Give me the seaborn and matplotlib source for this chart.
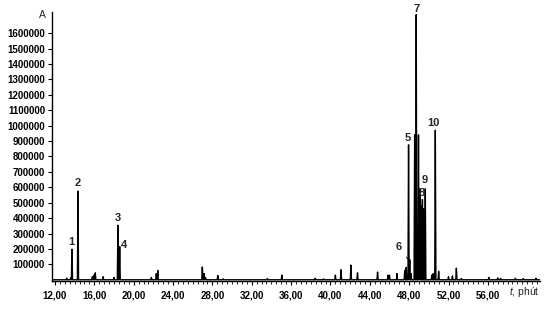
import numpy as np
import pandas as pd
import matplotlib
matplotlib.use("Agg")
import matplotlib.pyplot as plt
import seaborn as sns
from matplotlib.ticker import MultipleLocator, FixedLocator

# ---------------- data ----------------
peak_ids = ["1", "2", "3", "4", "5", "6", "7", "8", "9", "10"]
peak_rt = [13.73, 14.34, 18.40, 18.58, 47.94, 48.06, 48.72, 49.13, 49.64, 50.66]
peak_height = [198000, 575000, 354000, 215000, 875000, 130000, 1720000, 590000, 590000, 970000]

# unlabeled peaks
minor_rt = [13.20, 13.60, 15.80, 15.95, 16.10, 16.90, 18.00, 21.80, 22.30, 22.45,
            26.98, 27.15, 27.30, 28.55, 29.10, 33.60, 35.06, 38.45, 39.30, 40.50,
            41.07, 42.08, 42.75, 44.79, 45.85, 46.00, 46.76, 47.55, 47.70, 48.20,
            48.56, 48.95, 49.25, 49.35, 49.45, 49.55, 50.30, 50.45, 51.00, 52.00,
            52.40, 52.80, 53.30, 56.10, 57.00, 57.30, 58.80, 59.60, 60.90]
minor_height = [10000, 12000, 20000, 30000, 45000, 20000, 15000, 15000, 40000, 60000,
                83000, 40000, 15000, 28000, 6000, 8000, 30000, 10000, 6000, 30000,
                65000, 95000, 45000, 50000, 30000, 30000, 40000, 60000, 80000, 40000,
                940000, 940000, 480000, 520000, 460000, 400000, 30000, 40000, 55000, 20000,
                25000, 75000, 8000, 15000, 12000, 8000, 10000, 8000, 10000]

x_ticks = [12, 16, 20, 24, 28, 32, 36, 40, 44, 48, 52, 56]
x_tick_labels = ["12,00", "16,00", "20,00", "24,00", "28,00", "32,00",
                 "36,00", "40,00", "44,00", "48,00", "52,00", "56,00"]
y_ticks = [100000, 200000, 300000, 400000, 500000, 600000, 700000, 800000,
           900000, 1000000, 1100000, 1200000, 1300000, 1400000, 1500000, 1600000]
y_tick_labels = [str(v) for v in y_ticks]

x_range = (11.7, 61.3)
y_range = (-8000, 1737000)

# ---------------- build trace from peak table ----------------
peaks = pd.DataFrame({"rt": peak_rt + minor_rt, "h": peak_height + minor_height})
peaks = peaks.sort_values("rt").reset_index(drop=True)
half_w = 0.06
ts, hs = [x_range[0]], [0.0]
for t, h in zip(peaks["rt"], peaks["h"]):
    ts += [t - half_w, t, t + half_w]
    hs += [0.0, h, 0.0]
ts.append(x_range[1]); hs.append(0.0)
trace = pd.DataFrame({"t": ts, "A": hs})

# ---------------- figure ----------------
sns.set_theme(style="ticks")
plt.rcParams["font.family"] = ["Liberation Sans", "DejaVu Sans"]
plt.rcParams["mathtext.fontset"] = "custom"
plt.rcParams["mathtext.it"] = "Liberation Sans:italic"
plt.rcParams["mathtext.rm"] = "Liberation Sans"

W, H = 552, 310
fig = plt.figure(figsize=(W / 100, H / 100), dpi=100)
fig.patch.set_facecolor("white")
ax = fig.add_axes([52 / W, 29 / H, (540 - 52) / W, (281 - 12) / H])
ax.set_facecolor("white")

sns.lineplot(data=trace, x="t", y="A", ax=ax, color="black", linewidth=1.0,
             sort=False, estimator=None)

ax.set_xlim(*x_range)
ax.set_ylim(*y_range)
ax.set_xlabel("")
ax.set_ylabel("")
sns.despine(ax=ax)
for s in ("left", "bottom"):
    ax.spines[s].set_color("black")
    ax.spines[s].set_linewidth(1.0)

ax.xaxis.set_major_locator(FixedLocator(x_ticks))
ax.set_xticklabels(x_tick_labels)
ax.xaxis.set_minor_locator(MultipleLocator(0.5))
ax.yaxis.set_major_locator(FixedLocator(y_ticks))
ax.set_yticklabels(y_tick_labels)
ax.tick_params(axis="both", which="major", labelsize=7, length=3, width=0.8,
               color="black", labelcolor="black", pad=2)
ax.tick_params(axis="x", which="major", pad=4)
ax.tick_params(axis="x", which="minor", length=2, width=0.6, color="black")
for lab in ax.get_xticklabels() + ax.get_yticklabels():
    lab.set_fontweight("bold")

# peak labels
offsets = {"1": (-1, 2, "center", "bottom"), "2": (0, 3, "center", "bottom"),
           "3": (0, 2, "center", "bottom"), "4": (1, 2, "left", "center"),
           "5": (-1, 2, "center", "bottom"), "7": (0, 1, "center", "bottom"),
           "8": (1, -4, "center", "center"), "9": (-1, 4, "center", "bottom"),
           "10": (-2, 2, "center", "bottom")}
for pid, t, h in zip(peak_ids, peak_rt, peak_height):
    if pid == "6":
        ax.annotate(pid, xy=(t - 0.05, h - 5000), xytext=(-11, 13),
                    textcoords="offset pixels", ha="center", va="center",
                    fontsize=8, fontweight="bold",
                    arrowprops=dict(arrowstyle="-", lw=0.6, color="black",
                                    shrinkA=2, shrinkB=0))
        continue
    dx, dy, ha, va = offsets[pid]
    ax.annotate(pid, xy=(t, h), xytext=(dx, dy), textcoords="offset pixels",
                ha=ha, va=va, fontsize=8, fontweight="bold")

fig.text(42 / W, 1 - 15 / H, "A", ha="center", va="center", fontsize=7.5)
fig.text(540 / W, 1 - 292 / H, r"$t$, phút", ha="right", va="center", fontsize=7.5)

fig.savefig("out.png", dpi=100, facecolor="white")
